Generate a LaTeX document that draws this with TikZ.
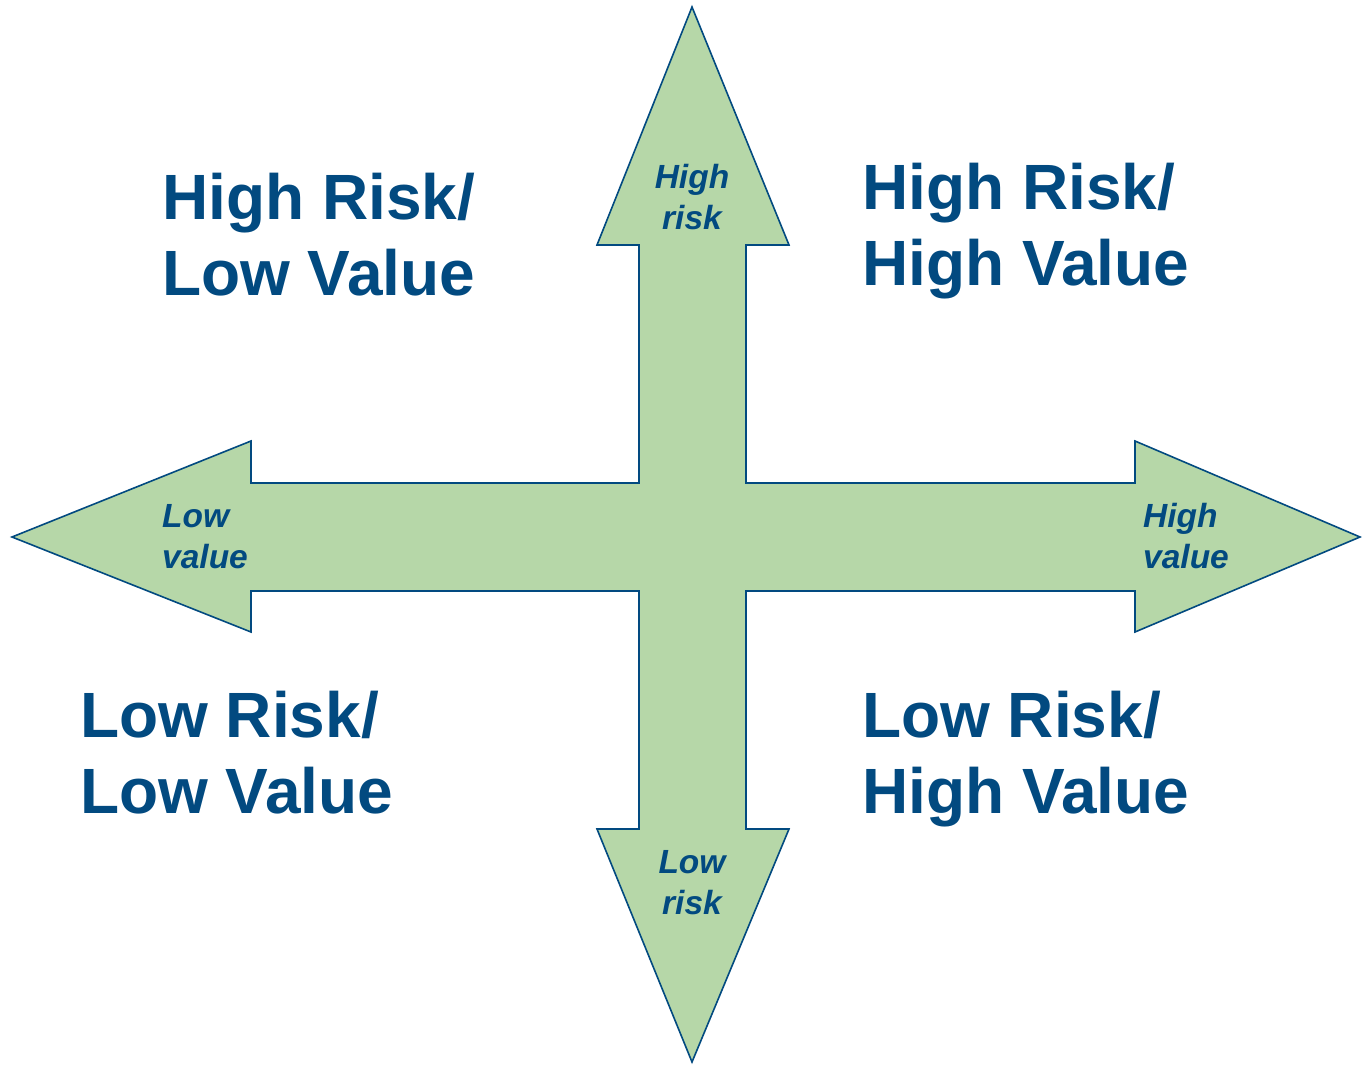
\documentclass[tikz,border=0pt]{standalone}
\usepackage{fontspec}
\setmainfont{Liberation Sans}
\definecolor{txtblue}{RGB}{2,74,128}
\definecolor{arrowfill}{RGB}{182,215,168}
\begin{document}
\begin{tikzpicture}[x=1pt,y=-1pt,
  big/.style={text=txtblue, inner sep=0pt, align=left, anchor=base west,
    font=\fontsize{64}{76}\selectfont\bfseries},
  small/.style={text=txtblue, inner sep=0pt, anchor=base,
    font=\fontsize{33.5}{41}\selectfont\bfseries\itshape},
  cross/.style={fill=arrowfill, draw=txtblue, line width=1.6pt, line join=miter}]
\useasboundingbox (0,0) rectangle (1362,1065);
\draw[cross] (692,7) -- (789,245) -- (746,245) -- (746,483) -- (1135,483) -- (1135,441)
  -- (1360,537) -- (1135,632) -- (1135,591) -- (746,591) -- (746,829) -- (789,829)
  -- (692,1062) -- (597,829) -- (639,829) -- (639,591) -- (251,591) -- (251,632)
  -- (12,537) -- (251,441) -- (251,483) -- (639,483) -- (639,245) -- (597,245) -- cycle;
\node[big] (hl) at (162,295) {High Risk/\\Low Value};
\node[big] (hh) at (862,285) {High Risk/\\High Value};
\node[big] (ll) at (80,813) {Low Risk/\\Low Value};
\node[big] (lh) at (862,813) {Low Risk/\\High Value};
\node[small, align=center] (hr) at (692,229) {High\\risk};
\node[small, align=center] (lr) at (692,914) {Low\\risk};
\node[small, align=left, anchor=base west] (lv) at (162,568) {Low\\value};
\node[small, align=left, anchor=base west] (hv) at (1143,568) {High\\value};
\end{tikzpicture}
\end{document}
